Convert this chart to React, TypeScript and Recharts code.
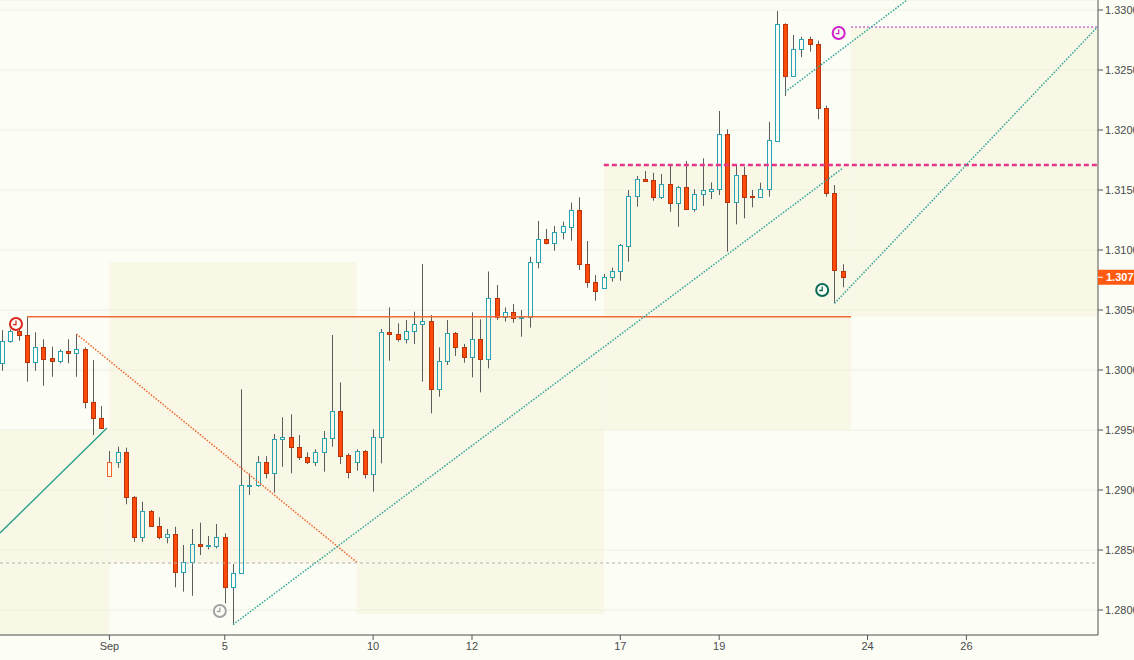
import React from "react";
import {
  Bar,
  CartesianGrid,
  ComposedChart,
  ReferenceArea,
  ReferenceDot,
  ReferenceLine,
  XAxis,
  YAxis,
} from "recharts";

// 4H candles, index 0 = first visible bar
const opens = [
  1.30056, 1.30244, 1.30323, 1.30289, 1.30064, 1.30189, 1.30097, 1.30078, 1.30158, 1.30144,
  1.30172, 1.29731, 1.29598, 1.29119, 1.29236, 1.29314, 1.28939, 1.28611, 1.28825, 1.28703,
  1.28611, 1.28631, 1.28319, 1.28398, 1.28548, 1.28533, 1.28533, 1.28606, 1.28194, 1.28306,
  1.29037, 1.29039, 1.29233, 1.29144, 1.29422, 1.29444, 1.29356, 1.29272, 1.29236, 1.29319,
  1.29431, 1.29658, 1.29289, 1.29231, 1.29325, 1.29131, 1.29439, 1.30314, 1.30297, 1.30256,
  1.30325, 1.30381, 1.30406, 1.29839, 1.30073, 1.30306, 1.30189, 1.30106, 1.30256, 1.30089,
  1.30597, 1.30444, 1.30481, 1.30431, 1.30439, 1.30903, 1.31089, 1.31056, 1.31147, 1.31194,
  1.31333, 1.30881, 1.30736, 1.30681, 1.30778, 1.30828, 1.31036, 1.31453, 1.31589, 1.31583,
  1.31444, 1.31547, 1.31389, 1.31528, 1.31339, 1.31464, 1.31494, 1.31506, 1.31964, 1.31398,
  1.31625, 1.31448, 1.31439, 1.31506, 1.31911, 1.32881, 1.32453, 1.32673, 1.32756, 1.32714,
  1.32181, 1.31473, 1.30828,
];
const highs = [
  1.30333, 1.30339, 1.3035, 1.30444, 1.30314, 1.30256, 1.30194, 1.30172, 1.30256, 1.303,
  1.30189, 1.30083, 1.297, 1.29325, 1.29361, 1.29353, 1.2895, 1.28903, 1.28833, 1.28773,
  1.28675, 1.28694, 1.28542, 1.28675, 1.28728, 1.28617, 1.28717, 1.28639, 1.28383, 1.29839,
  1.29139, 1.29283, 1.29283, 1.29467, 1.29606, 1.29631, 1.29458, 1.29314, 1.29339, 1.29492,
  1.30292, 1.29897, 1.29306, 1.29339, 1.29333, 1.29506, 1.30342, 1.30522, 1.30389, 1.30417,
  1.30486, 1.30883, 1.30458, 1.30189, 1.30417, 1.30317, 1.30217, 1.30481, 1.30422, 1.30821,
  1.30708, 1.30522, 1.3055, 1.305, 1.30944, 1.31242, 1.31175, 1.312, 1.31236, 1.31394,
  1.31439, 1.31075, 1.30792, 1.308, 1.30853, 1.3105, 1.315, 1.31617, 1.31658, 1.31644,
  1.31633, 1.31714, 1.31533, 1.31742, 1.31506, 1.31764, 1.31564, 1.32158, 1.32006, 1.31717,
  1.31694, 1.315, 1.31561, 1.32069, 1.32992, 1.32889, 1.32792, 1.32778, 1.32778, 1.32744,
  1.32203, 1.31542, 1.30881,
];
const lows = [
  1.29994, 1.30228, 1.30244, 1.29903, 1.29994, 1.29869, 1.29944, 1.30056, 1.30056, 1.29944,
  1.29681, 1.29458, 1.29508, 1.29117, 1.29186, 1.28881, 1.28569, 1.28569, 1.28694, 1.28589,
  1.28556, 1.28189, 1.28153, 1.28119, 1.28458, 1.28506, 1.28514, 1.28056, 1.27879, 1.283,
  1.28958, 1.29027, 1.29097, 1.28978, 1.29194, 1.29139, 1.2925, 1.29217, 1.292, 1.29153,
  1.29361, 1.29217, 1.29097, 1.29161, 1.29097, 1.28986, 1.29222, 1.30078, 1.30236, 1.30222,
  1.30217, 1.29903, 1.29639, 1.29778, 1.30042, 1.30117, 1.30061, 1.29939, 1.29814, 1.30014,
  1.30417, 1.30403, 1.30394, 1.30278, 1.30353, 1.30847, 1.31047, 1.30994, 1.31089, 1.31078,
  1.30833, 1.30686, 1.30578, 1.30675, 1.30736, 1.30744, 1.30903, 1.31361, 1.31578, 1.31411,
  1.31425, 1.31319, 1.31194, 1.31339, 1.31319, 1.31367, 1.31425, 1.31458, 1.30986, 1.31214,
  1.31264, 1.31356, 1.31433, 1.31444, 1.31903, 1.32283, 1.32446, 1.32606, 1.32653, 1.32089,
  1.31444, 1.30556, 1.30689,
];
const closes = [
  1.30244, 1.30323, 1.30289, 1.30064, 1.30189, 1.30094, 1.30078, 1.30158, 1.30144, 1.30172,
  1.29731, 1.29598, 1.29514, 1.29236, 1.29314, 1.28939, 1.28611, 1.28825, 1.28703, 1.28611,
  1.28631, 1.28319, 1.28398, 1.28548, 1.28533, 1.28542, 1.28606, 1.28194, 1.28306, 1.29042,
  1.29046, 1.29233, 1.29144, 1.29422, 1.29444, 1.29356, 1.29272, 1.29236, 1.29319, 1.29431,
  1.29658, 1.29286, 1.29147, 1.29325, 1.29131, 1.29439, 1.30314, 1.30297, 1.30256, 1.30325,
  1.30381, 1.30406, 1.29839, 1.30073, 1.30306, 1.30189, 1.30106, 1.30256, 1.30089, 1.30597,
  1.30444, 1.30481, 1.30431, 1.30439, 1.30903, 1.31089, 1.31056, 1.31147, 1.312, 1.31333,
  1.30881, 1.30736, 1.30661, 1.30778, 1.30828, 1.31042, 1.31453, 1.31589, 1.31578, 1.31444,
  1.31547, 1.31389, 1.31528, 1.31339, 1.31464, 1.31498, 1.31506, 1.31964, 1.31398, 1.31625,
  1.31444, 1.31439, 1.31506, 1.31917, 1.32881, 1.32453, 1.32673, 1.32756, 1.32714, 1.32181,
  1.31473, 1.30833, 1.30773,
];

const dayTicks = [13, 27, 45, 57, 75, 87, 105, 117];
const dayLabels = ["Sep", "5", "10", "12", "17", "19", "24", "26"];
const priceTicks = [1.28, 1.285, 1.29, 1.295, 1.3, 1.305, 1.31, 1.315, 1.32, 1.325, 1.33];

const IDX_MIN = -0.28;
const IDX_MAX = 132.97;
const Y_MIN = 1.27792;
const Y_MAX = 1.330833;

const TEAL = "#27a3b4";
const RED_FILL = "#ff4a0a";
const RED_EDGE = "#b9360c";
const RED_HOLLOW = "#f2652a";
const WICK = "#5c5c5c";
const BOX = "#f7f0d4";

const data = opens.map((o, i) => ({
  i,
  o,
  h: highs[i],
  l: lows[i],
  c: closes[i],
  prev: i > 0 ? closes[i - 1] : o,
  range: [lows[i], highs[i]],
}));

function Candle(props: any) {
  const { x, y, width, height, payload } = props;
  if (x == null || !payload) return null;
  const { o, h, l, c, prev } = payload;
  const top = Math.min(y, y + height);
  const span = Math.abs(height);
  const py = (v: number) => top + ((h - v) / (h - l || 1)) * span;
  const cx = Math.floor(x + width / 2);
  const X = cx + 0.5;
  const bt = Math.round(py(Math.max(o, c))) + 0.5;
  let bb = Math.round(py(Math.min(o, c))) + 0.5;
  if (bb - bt < 1) bb = bt + 1;
  const up = c >= prev;
  const filled = c < o;
  const stroke = up ? TEAL : filled ? RED_EDGE : RED_HOLLOW;
  const fill = filled ? (up ? TEAL : RED_FILL) : "none";
  const yh = py(h);
  const yl = py(l);
  return (
    <g>
      {yh < bt && <line x1={X} x2={X} y1={yh} y2={bt} stroke={WICK} strokeWidth={1} />}
      {yl > bb && <line x1={X} x2={X} y1={bb} y2={yl} stroke={WICK} strokeWidth={1} />}
      <rect x={X - 2} y={bt} width={4} height={bb - bt} fill={fill} stroke={stroke} strokeWidth={1} />
    </g>
  );
}

const clockShape = (color: string) => (props: any) => {
  const { cx, cy } = props;
  return (
    <g>
      <circle cx={cx} cy={cy} r={6} fill="#fdfef6" stroke={color} strokeWidth={2} />
      <path d={`M${cx} ${cy - 3.5} V${cy + 0.5} H${cx - 3}`} stroke={color} strokeWidth={1.3} fill="none" />
    </g>
  );
};

const PriceTag = (props: any) => {
  const { cx, cy } = props;
  return (
    <g>
      <rect x={cx} y={cy - 7.5} width={40} height={15} fill="#ff5a0f" />
      <line x1={cx} x2={cx + 5} y1={cy} y2={cy} stroke="#fff" strokeWidth={1} />
      <text x={cx + 8} y={cy + 4} fill="#fff" fontSize={11} fontWeight={600}>
        {closes[closes.length - 1].toFixed(4)}
      </text>
    </g>
  );
};

export default function App() {
  return (
    <div
      style={{
        position: "absolute",
        left: 0,
        top: 0,
        width: 1134,
        height: 660,
        background: "#fcfdf5",
        fontFamily: "'Liberation Sans', Arial, sans-serif",
        overflow: "hidden",
      }}
    >
      <ComposedChart width={1134} height={660} data={data} margin={{ top: 0, right: 0, bottom: 0, left: 0 }}>
        <CartesianGrid vertical={false} stroke="#eef0e3" />
        <XAxis
          dataKey="i"
          type="number"
          domain={[IDX_MIN, IDX_MAX]}
          allowDataOverflow
          ticks={dayTicks}
          tickFormatter={(v: number) => dayLabels[dayTicks.indexOf(v)] ?? ""}
          height={25}
          stroke="#555"
          tickSize={5}
          tick={{ fontSize: 11, fill: "#4a4a4a" }}
        />
        <YAxis
          orientation="right"
          type="number"
          domain={[Y_MIN, Y_MAX]}
          allowDataOverflow
          ticks={priceTicks}
          tickFormatter={(v: number) => v.toFixed(4)}
          width={36}
          stroke="#555"
          tickSize={5}
          tick={{ fontSize: 11, fill: "#4a4a4a" }}
        />

        <ReferenceArea x1={IDX_MIN} x2={13} y1={Y_MIN} y2={1.295} fill={BOX} fillOpacity={0.45} stroke="none" />
        <ReferenceArea x1={13} x2={43} y1={1.28392} y2={1.309} fill={BOX} fillOpacity={0.45} stroke="none" />
        <ReferenceArea x1={43} x2={73} y1={1.27967} y2={1.30444} fill={BOX} fillOpacity={0.45} stroke="none" />
        <ReferenceArea x1={73} x2={103} y1={1.295} y2={1.31708} fill={BOX} fillOpacity={0.45} stroke="none" />
        <ReferenceArea x1={103} x2={IDX_MAX} y1={1.30444} y2={1.32858} fill={BOX} fillOpacity={0.45} stroke="none" />

        <ReferenceLine
          segment={[{ x: IDX_MIN, y: 1.28392 }, { x: IDX_MAX, y: 1.28392 }]}
          stroke="#b4b4ac"
          strokeDasharray="3 3"
          ifOverflow="hidden"
        />
        <ReferenceLine
          segment={[{ x: 3, y: 1.30444 }, { x: 103, y: 1.30444 }]}
          stroke="#f26b38"
          strokeWidth={1.5}
          ifOverflow="hidden"
        />
        <ReferenceLine
          segment={[{ x: 73, y: 1.31708 }, { x: IDX_MAX, y: 1.31708 }]}
          stroke="#e8358a"
          strokeWidth={2.5}
          strokeDasharray="5 3"
          ifOverflow="hidden"
        />
        <ReferenceLine
          segment={[{ x: 103, y: 1.32858 }, { x: IDX_MAX, y: 1.32858 }]}
          stroke="#b030c8"
          strokeDasharray="2 2"
          ifOverflow="hidden"
        />
        <ReferenceLine
          segment={[{ x: 9, y: 1.303 }, { x: 43, y: 1.284 }]}
          stroke="#f0642a"
          strokeWidth={1.5}
          strokeDasharray="1.5 1.5"
          ifOverflow="hidden"
        />
        <ReferenceLine
          segment={[{ x: IDX_MIN, y: 1.28642 }, { x: 12.7, y: 1.29517 }]}
          stroke="#1f9e8a"
          strokeWidth={1.3}
          ifOverflow="hidden"
        />
        <ReferenceLine
          segment={[{ x: 28, y: 1.27879 }, { x: 102, y: 1.31683 }]}
          stroke="#2fa597"
          strokeWidth={1.5}
          strokeDasharray="1.5 1.5"
          ifOverflow="hidden"
        />
        <ReferenceLine
          segment={[{ x: 95, y: 1.32317 }, { x: 109.8, y: Y_MAX }]}
          stroke="#2fa597"
          strokeWidth={1.5}
          strokeDasharray="1.5 1.5"
          ifOverflow="hidden"
        />
        <ReferenceLine
          segment={[{ x: 101, y: 1.30556 }, { x: 132.9, y: 1.32858 }]}
          stroke="#2fa597"
          strokeWidth={1.5}
          strokeDasharray="1.5 1.5"
          ifOverflow="hidden"
        />

        <Bar dataKey="range" barSize={5} isAnimationActive={false} shape={(p: any) => <Candle {...p} />} />

        <ReferenceDot x={1.66} y={1.30383} r={6} shape={clockShape("#d8261c")} ifOverflow="visible" />
        <ReferenceDot x={26.4} y={1.27992} r={6} shape={clockShape("#a3a3a3")} ifOverflow="visible" />
        <ReferenceDot x={101.5} y={1.32808} r={6} shape={clockShape("#cc22cc")} ifOverflow="visible" />
        <ReferenceDot x={99.5} y={1.30667} r={6} shape={clockShape("#0b6b57")} ifOverflow="visible" />
        <ReferenceDot
          x={IDX_MAX}
          y={closes[closes.length - 1]}
          r={1}
          shape={PriceTag}
          ifOverflow="visible"
        />
      </ComposedChart>
    </div>
  );
}
